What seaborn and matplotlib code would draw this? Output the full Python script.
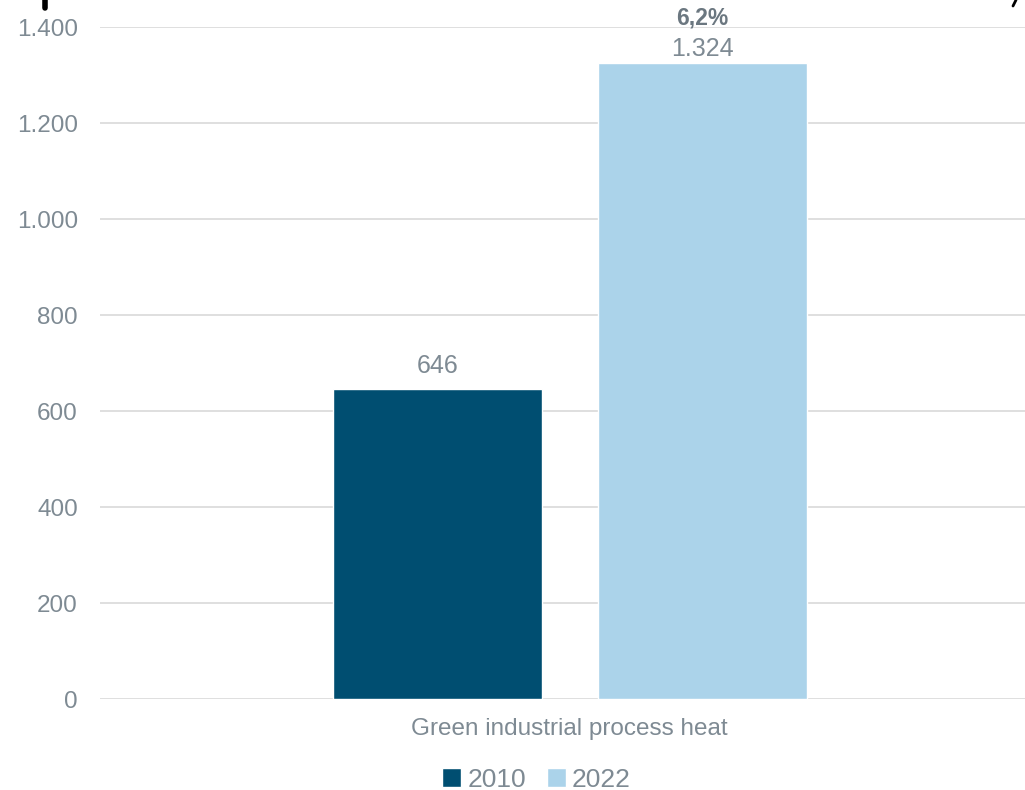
import pandas as pd
import matplotlib.pyplot as plt
import seaborn as sns
from matplotlib.lines import Line2D

# Data
categories = ['Green industrial process heat']
years = ['2010', '2022']
values = [646, 1324]
value_labels = ['646', '1.324']
growth_label = '6,2%'
yticks = [0, 200, 400, 600, 800, 1000, 1200, 1400]
ytick_labels = ['0', '200', '400', '600', '800', '1.000', '1.200', '1.400']

colors = ['#004E71', '#ABD3EA']
text_grey = '#7E8A93'

df = pd.DataFrame({'category': categories * 2, 'year': years, 'value': values})

sns.set_style('white')
plt.rcParams['font.family'] = ['Liberation Sans', 'DejaVu Sans']

fig = plt.figure(figsize=(10.25, 7.9), dpi=100)
ax = fig.add_axes([100 / 1025, 1 - 699 / 790, 925 / 1025, 672 / 790])

sns.barplot(data=df, x='category', y='value', hue='year', palette=colors,
            saturation=1, width=0.8, gap=0.211, ax=ax, legend=True)

ax.set_xlim(-0.709, 0.687)
ax.set_ylim(0, 1400)
ax.set_yticks(yticks)
ax.set_yticklabels(ytick_labels)
ax.yaxis.grid(True, color='#D9D9D9', linewidth=1.2)
ax.set_axisbelow(True)
for s in ax.spines.values():
    s.set_visible(False)
ax.tick_params(axis='both', length=0, labelsize=17.5, colors=text_grey)
ax.tick_params(axis='y', pad=16)
ax.tick_params(axis='x', pad=14)
ax.set_xlabel('')
ax.set_ylabel('')

# value labels (the top one sits closer to its bar)
for cont, lab, pad in zip(ax.containers, value_labels, [8, 2]):
    ax.bar_label(cont, labels=[lab], padding=pad, fontsize=18, color=text_grey)

bar22 = ax.containers[1][0]
ax.text(bar22.get_x() + bar22.get_width() / 2, 1418, growth_label,
        ha='center', va='center', fontsize=16.5, fontweight='bold', color='#6B7780')

# legend at bottom
h, l = ax.get_legend_handles_labels()
ax.legend(h, l, loc='center', bbox_to_anchor=(0.472, -0.12), ncol=2, frameon=False,
          fontsize=19, labelcolor=text_grey, handlelength=0.7, handleheight=0.7,
          handletextpad=0.25, columnspacing=0.8)

# cut-off bracket at the top edge
fig.add_artist(Line2D([45 / 1025, 45 / 1025], [1.0, 1 - 8 / 790], transform=fig.transFigure,
                      color='black', linewidth=4))
fig.add_artist(Line2D([1016 / 1025, 1013 / 1025], [1.0, 1 - 6 / 790], transform=fig.transFigure,
                      color='black', linewidth=2))

fig.savefig('out.png', dpi=100)
